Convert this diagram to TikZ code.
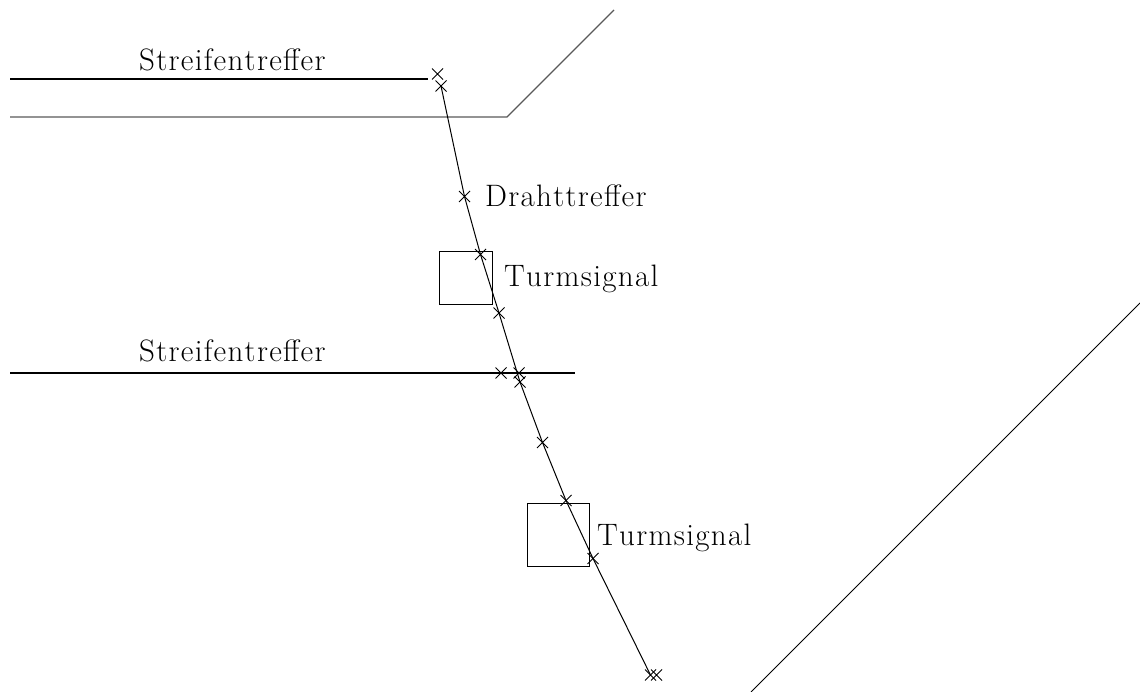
\documentclass[tikz,border=0pt]{standalone}
\usepackage{fontspec}
\setmainfont{Latin Modern Roman}[LetterSpace=4.2,Kerning=Off]
\usetikzlibrary{shapes.misc}
\tikzset{
  mk/.style={cross out,draw=black,line width=0.8pt,minimum size=11pt,inner sep=0pt,outer sep=0pt},
  thin line/.style={draw=black,line width=1pt},
  bold line/.style={draw=black,line width=2pt},
  grey line/.style={draw=black!65,line width=1.3pt},
  lab/.style={inner sep=0pt,anchor=base west,font=\fontsize{31}{34}\selectfont},
}
\begin{document}
\begin{tikzpicture}[x=1pt,y=-1pt]
\useasboundingbox (0,0) rectangle (1140,692);
\coordinate (s1a) at (10,79.3); \coordinate (s1b) at (428,79.3);
\coordinate (g1) at (10,117); \coordinate (g2) at (507,117); \coordinate (g3) at (614,10);
\coordinate (s2a) at (10,372.7); \coordinate (s2b) at (575,372.7);
\coordinate (r1) at (751,692); \coordinate (r2) at (1140,303);
\node[mk] (m1) at (437.5,74) {};
\node[mk] (m2) at (441,86) {};
\node[mk] (m3) at (464.5,196.5) {};
\node[mk] (m4) at (480.5,254.5) {};
\node[mk] (m5) at (499,313) {};
\node[mk] (m6) at (501,373) {};
\node[mk] (m7) at (519,373) {};
\node[mk] (m8) at (520,382) {};
\node[mk] (m9) at (542.5,442.5) {};
\node[mk] (m10) at (566,500.5) {};
\node[mk] (m11) at (593,558.5) {};
\node[mk] (m12) at (650.5,675) {};
\node[mk] (m13) at (656.5,675) {};
\draw[bold line] (s1a) -- (s1b);
\draw[bold line] (s2a) -- (s2b);
\draw[grey line] (g1) -- (g2) -- (g3);
\draw[thin line] (r1) -- (r2);
\draw[thin line] (m2.center) -- (m3.center) -- (m4.center) -- (m5.center) -- (m8.center) -- (m9.center) -- (m10.center) -- (m11.center) -- (m12.center);
\node[draw=black,line width=1pt,minimum width=52.5pt,minimum height=52.5pt,inner sep=0pt,outer sep=0pt] (b1) at (466,278) {};
\node[draw=black,line width=1pt,minimum width=62pt,minimum height=63pt,inner sep=0pt,outer sep=0pt] (b2) at (558.5,535) {};
\node[lab] (t1) at (139,71) {Streifentre^^^^fb00er};
\node[lab] (t2) at (139,361) {Streifentre^^^^fb00er};
\node[lab] (t3) at (485,207) {Drahttre^^^^fb00er};
\node[lab] (t4) at (504,287) {Turmsignal};
\node[lab] (t5) at (597,545) {Turmsignal};
\end{tikzpicture}
\end{document}
